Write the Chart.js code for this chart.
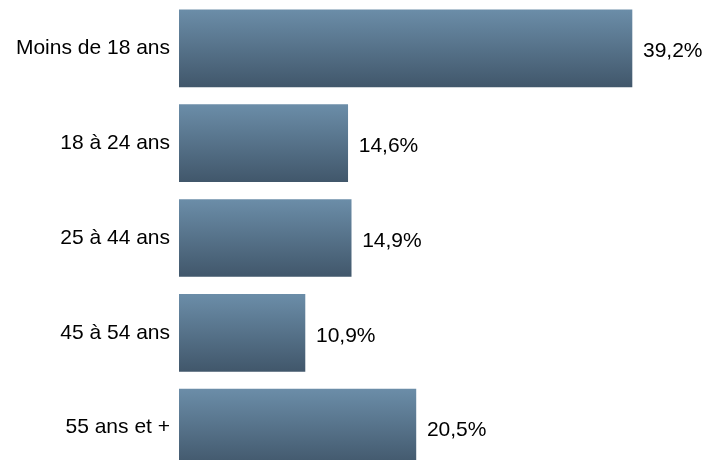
<!DOCTYPE html>
<html>
<head>
<meta charset="utf-8">
<script src="https://cdn.jsdelivr.net/npm/chart.js@4"></script>
<style>
    html, body { margin: 0; padding: 0; background: #fff; overflow: hidden; }
    canvas { display: block; }
</style>
</head>
<body>
<canvas id="ageChart" width="710" height="475"></canvas>
<script>
// Tranches d'âge et parts (%)
const tranches = ['Moins de 18 ans', '18 à 24 ans', '25 à 44 ans', '45 à 54 ans', '55 ans et +'];
const parts = [39.2, 14.6, 14.9, 10.9, 20.5];

const BAR_H = 77;

// dégradé vertical sur chaque barre
function degradeBarre(context) {
    const chart = context.chart;
    if (!chart.chartArea || !chart.scales.y) return '#54708a';
    const centre = chart.scales.y.getPixelForValue(context.dataIndex);
    const g = chart.ctx.createLinearGradient(0, centre - BAR_H / 2, 0, centre + BAR_H / 2);
    g.addColorStop(0, '#6b8da8');
    g.addColorStop(1, '#41576b');
    return g;
}

// étiquettes de valeur à droite des barres
const etiquettesValeurs = {
    id: 'etiquettesValeurs',
    afterDatasetsDraw(chart) {
        const ctx = chart.ctx;
        const meta = chart.getDatasetMeta(0);
        ctx.save();
        ctx.font = '21px "Liberation Sans", Arial, sans-serif';
        ctx.fillStyle = '#000';
        ctx.textAlign = 'left';
        ctx.textBaseline = 'middle';
        meta.data.forEach((bar, i) => {
            const txt = parts[i].toFixed(1).replace('.', ',') + '%';
            ctx.fillText(txt, bar.x + 11, bar.y + 3);
        });
        ctx.restore();
    }
};

document.addEventListener('DOMContentLoaded', () => {
    const ctx = document.getElementById('ageChart').getContext('2d');
    new Chart(ctx, {
        type: 'bar',
        data: {
            labels: tranches,
            datasets: [{
                data: parts,
                backgroundColor: degradeBarre,
                borderWidth: 0,
                barThickness: BAR_H
            }]
        },
        options: {
            indexAxis: 'y',
            responsive: false,
            animation: false,
            devicePixelRatio: 1,
            layout: { padding: { top: 1, right: 11, bottom: 0, left: 0 } },
            scales: {
                x: {
                    display: false,
                    min: 0,
                    max: 45
                },
                y: {
                    offset: true,
                    grid: { display: false, drawTicks: false },
                    border: { display: false },
                    ticks: {
                        padding: 9,
                        color: '#000',
                        font: { family: '"Liberation Sans", Arial, sans-serif', size: 21 }
                    },
                    afterFit(scale) {
                        scale.width = 179;
                        // pas de marge verticale due aux étiquettes
                        scale.paddingTop = 0;
                        scale.paddingBottom = 0;
                    }
                }
            },
            plugins: {
                legend: { display: false },
                tooltip: { enabled: false }
            }
        },
        plugins: [etiquettesValeurs]
    });
});
</script>
</body>
</html>
